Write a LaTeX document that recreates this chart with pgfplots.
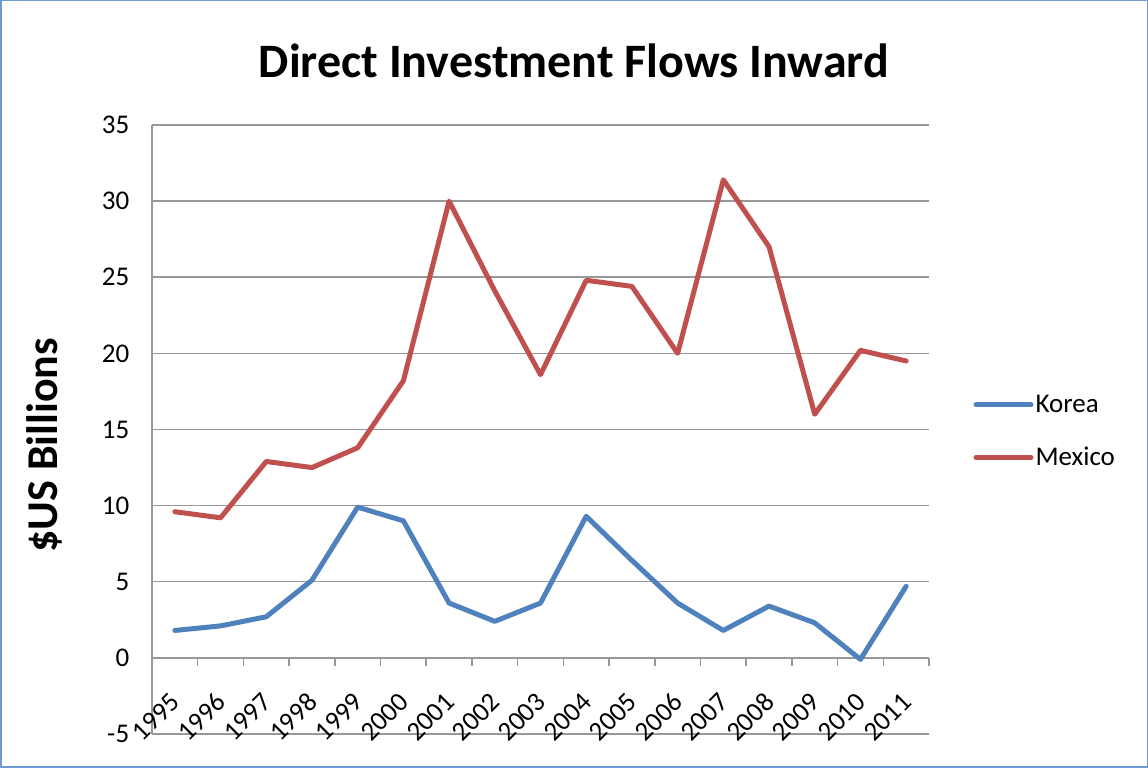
\documentclass[border=0pt]{standalone}
\usepackage{fontspec}
\setmainfont{Carlito}
\usepackage{pgfplots}
\pgfplotsset{compat=1.18}
\definecolor{kBlue}{HTML}{4F81BD}
\definecolor{mRed}{HTML}{C0504D}
\definecolor{gridGray}{HTML}{989898}
\definecolor{frameBlue}{HTML}{6F9BD1}

\begin{document}
\begin{tikzpicture}[x=1pt,y=1pt]
\useasboundingbox (0,0) rectangle (1148,768);
\draw[frameBlue, line width=1.5pt] (0.75,0.75) rectangle (1147.25,767.25);
\begin{axis}[
  at={(152pt,34pt)}, anchor=south west,
  scale only axis, width=777pt, height=609pt,
  xmin=-0.5, xmax=16.5, ymin=-5, ymax=35,
  axis y line*=left, axis x line*=middle,
  axis line style={gridGray, line width=1.5pt},
  ytick={-5,0,...,35},
  ymajorgrids, grid style={gridGray, line width=1.5pt},
  ytick style={draw=none},
  xtick={0,...,16},
  xticklabels={1995,1996,1997,1998,1999,2000,2001,2002,2003,2004,2005,2006,2007,2008,2009,2010,2011},
  major x tick style={draw=none},
  minor xtick={-0.5,0.5,...,16.5},
  minor x tick style={gridGray, line width=1.5pt},
  minor tick length=8pt, tick align=outside,
  /pgf/number format/assume math mode=true,
  tick label style={font=\fontsize{27}{32}\selectfont},
  xticklabel style={xshift=3pt, yshift=-33pt, rotate=45, anchor=east},
  yticklabel style={xshift=-15pt},
  title={Direct Investment Flows Inward},
  title style={at={(axis description cs:0.543,1.095)}, anchor=center,
    font=\fontsize{48}{56}\selectfont\bfseries},
  ylabel={\$US Billions},
  ylabel style={at={(axis description cs:-0.138,0.474)}, anchor=center,
    font=\fontsize{44}{52}\selectfont\bfseries},
  legend style={at={(axis description cs:1.057,0.497)}, anchor=west,
    draw=none, fill=none, font=\fontsize{27}{32}\selectfont, row sep=29pt,
    inner sep=0pt},
  legend cell align=left,
  legend image code/.code={\draw[#1] (0pt,0pt) -- (55pt,0pt);},
  every axis plot/.append style={line width=5pt, line join=round, line cap=round},
  clip=false,
]
\addplot[kBlue] coordinates {
  (0,1.8)(1,2.1)(2,2.7)(3,5.1)(4,9.9)(5,9.0)(6,3.6)(7,2.4)(8,3.6)
  (9,9.3)(10,6.4)(11,3.6)(12,1.8)(13,3.4)(14,2.3)(15,-0.1)(16,4.7)
};
\addlegendentry{Korea}
\addplot[mRed] coordinates {
  (0,9.6)(1,9.2)(2,12.9)(3,12.5)(4,13.8)(5,18.2)(6,30.0)(7,24.1)(8,18.6)
  (9,24.8)(10,24.4)(11,20.0)(12,31.4)(13,27.0)(14,16.0)(15,20.2)(16,19.5)
};
\addlegendentry{Mexico}
\end{axis}
\end{tikzpicture}
\end{document}
